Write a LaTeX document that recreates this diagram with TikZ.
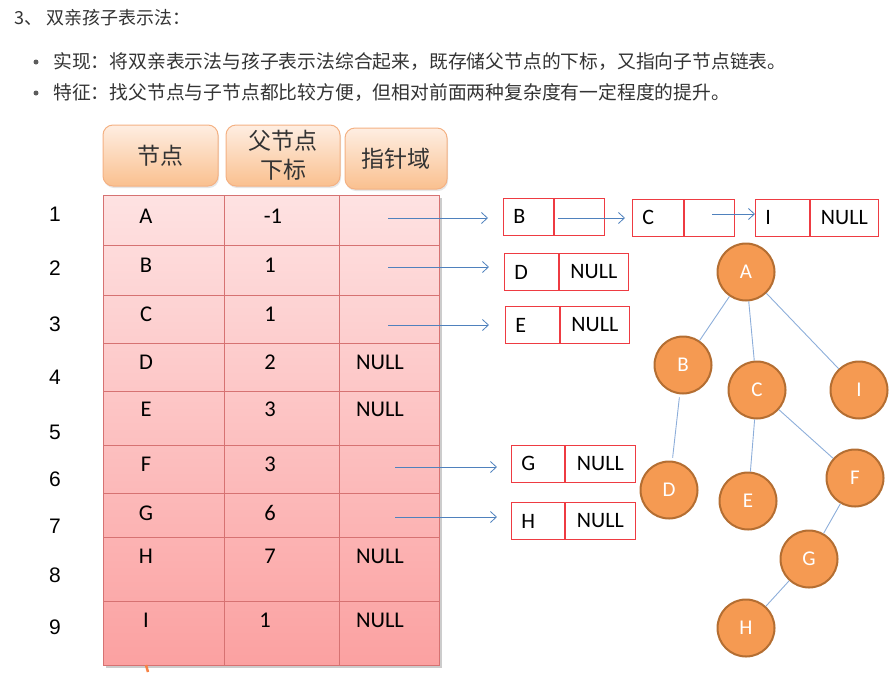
\documentclass[tikz,border=0pt]{standalone}
\usepackage{fontspec}
\setmainfont{Carlito}
\newfontfamily\cjk{Noto Sans CJK SC}
\newfontfamily\arialf{Liberation Sans}
\usepackage{tikz}
\usetikzlibrary{arrows.meta,positioning,calc,shadows}
\definecolor{cText}{HTML}{333333}
\definecolor{cHeadTop}{HTML}{FEEEE2}
\definecolor{cHeadBot}{HTML}{FAC08F}
\definecolor{cHeadLine}{HTML}{F4B183}
\definecolor{cRowTop}{HTML}{FEE2E2}
\definecolor{cRowBot}{HTML}{FBA1A1}
\definecolor{cGrid}{HTML}{D67272}
\definecolor{cBox}{HTML}{EE3B42}
\definecolor{cArrow}{HTML}{4F81BD}
\definecolor{cEdge}{HTML}{8DAEDA}
\definecolor{cNode}{HTML}{F59A52}
\definecolor{cNodeLine}{HTML}{B46E32}

\begin{document}
\begin{tikzpicture}[x=1pt, y=-1pt,
    head/.style={rounded corners=10pt, draw=cHeadLine, line width=1pt,
      top color=cHeadTop, bottom color=cHeadBot, minimum height=61pt,
      inner sep=0pt, align=center, text=cText,
      font=\cjk\fontsize{23}{29}\selectfont,
      drop shadow={shadow xshift=1pt, shadow yshift=-2pt, opacity=0.2}},
    cell/.style={draw=cBox, line width=0.9pt, minimum height=37pt, inner sep=0pt,
      font=\fontsize{22}{24}\selectfont},
    key/.style={cell, text width=#1, align=left, inner xsep=10pt},
    nxt/.style={cell, minimum width=#1},
    ptr/.style={cArrow, line width=0.8pt, -{Straight Barb[length=6pt,width=11pt]}},
    tnode/.style={circle, draw=cNodeLine, line width=2pt, fill=cNode,
      minimum size=57pt, inner sep=0pt, text=white,
      font=\fontsize{21}{23}\selectfont},
    edge/.style={cEdge, line width=0.9pt}]
  \useasboundingbox (0,0) rectangle (896,686);

  % heading and bullets
  \node[anchor=west, text=cText, font=\cjk\fontsize{18}{20}\selectfont]
    (title) at (11,18) {3、 双亲孩子表示法：};
  \node[circle, fill=cText!80, inner sep=0pt, minimum size=5pt] (dot1) at (36,62) {};
  \node[circle, fill=cText!80, inner sep=0pt, minimum size=5pt] (dot2) at (36,93) {};
  \node[anchor=west, text=cText, font=\cjk\fontsize{18.8}{20}\selectfont, inner xsep=0pt]
    (real) at (53,62) {实现：将双亲表示法与孩子表示法综合起来，既存储父节点的下标，又指向子节点链表。};
  \node[anchor=west, text=cText, font=\cjk\fontsize{18.8}{20}\selectfont, inner xsep=0pt]
    (feat) at (53,93) {特征：找父节点与子节点都比较方便，但相对前面两种复杂度有一定程度的提升。};

  % table head
  \node[head, minimum width=115pt] (h1) at (160.5,155.5) {节点};
  \node[head, minimum width=114pt] (h2) at (283,155.5) {父节点\\下标};
  \node[head, minimum width=102pt] (h3) at (396,158.5) {指针域};

  % table body
  \fill[black!20] (106,198) rectangle (442,668);
  \shade[top color=cRowTop, bottom color=cRowBot] (103,195) rectangle (439,665);
  \foreach \y in {245,295,343,391,445,493,537,601}
    \draw[cGrid, line width=1pt] (103,\y) -- (439,\y);
  \draw[cGrid, line width=1pt] (224,195) -- (224,665) (339,195) -- (339,665);
  \draw[cGrid, line width=1pt] (103,195) rectangle (439,665);
  \draw[cNode!85!red, line width=2.5pt] (146,665) -- (148,672);

  \foreach \n/\p/\px/\f/\y in {A/-1/273//216, B/1/270//265, C/1/270//314,
      D/2/270/NULL/362, E/3/270/NULL/409, F/3/270//464, G/6/270//513,
      H/7/270/NULL/556, I/1/265/NULL/620} {
    \node[font=\fontsize{22.5}{24}\selectfont] (c\n) at (146,\y) {\n};
    \node[font=\fontsize{22.5}{24}\selectfont] (p\n) at (\px,\y) {\p};
    \node[font=\fontsize{22.5}{24}\selectfont] (f\n) at (380,\y) {\f};
  }

  % row numbers
  \foreach \i/\y in {1/214, 2/268, 3/324, 4/377, 5/432, 6/479, 7/526, 8/575, 9/627}
    \node[font=\arialf\fontsize{21}{23}\selectfont] (r\i) at (55,\y) {\i};

  % child lists
  \node[key=30pt, anchor=west] (lB) at (503,216.5) {B};
  \node[nxt=50pt, right=0pt of lB] (lBn) {};
  \node[key=31pt, anchor=west] (lC) at (632,217.5) {C};
  \node[nxt=50pt, right=0pt of lC] (lCn) {};
  \node[key=34pt, anchor=west] (lI) at (755,217.5) {I};
  \node[nxt=68pt, right=0pt of lI] (lIn) {NULL};
  \node[key=34pt, anchor=west] (lD) at (504,272) {D};
  \node[nxt=69pt, right=0pt of lD] (lDn) {NULL};
  \node[key=34pt, anchor=west] (lE) at (505,325) {E};
  \node[nxt=69pt, right=0pt of lE] (lEn) {NULL};
  \node[key=33pt, anchor=west] (lG) at (511,463.5) {G};
  \node[nxt=70pt, right=0pt of lG] (lGn) {NULL};
  \node[key=33pt, anchor=west] (lH) at (511,521) {H};
  \node[nxt=70pt, right=0pt of lH] (lHn) {NULL};

  % pointers
  \coordinate (sA) at (388,218);
  \coordinate (sB) at (388,267);
  \coordinate (sC) at (388,325);
  \coordinate (sF) at (395,467);
  \coordinate (sG) at (395,517);
  \coordinate (sBn) at (558,218);
  \coordinate (sCn) at (712,214);
  \draw[ptr, shorten >=15pt] (sA) -- (sA -| lB.west);
  \draw[ptr, shorten >=15pt] (sB) -- (sB -| lD.west);
  \draw[ptr, shorten >=16pt] (sC) -- (sC -| lE.west);
  \draw[ptr, shorten >=14pt] (sF) -- (sF -| lG.west);
  \draw[ptr, shorten >=14pt] (sG) -- (sG -| lH.west);
  \draw[ptr, shorten >=7pt] (sBn) -- (sBn -| lC.west);
  \draw[ptr] (sCn) -- (sCn -| lI.west);

  % tree
  \node[tnode] (tA) at (746,272) {A};
  \node[tnode] (tB) at (683,365) {B};
  \node[tnode] (tC) at (757,390) {C};
  \node[tnode] (tI) at (859,390) {I};
  \node[tnode] (tD) at (669,490) {D};
  \node[tnode] (tE) at (748,501) {E};
  \node[tnode] (tF) at (855,478) {F};
  \node[tnode] (tG) at (809,559) {G};
  \node[tnode] (tH) at (746,628) {H};
  \draw[edge] (tA) -- (tB);
  \draw[edge] (tA) -- (tC);
  \draw[edge] (tA) -- (tI);
  \draw[edge, shorten <=3pt, shorten >=3pt] (tB) -- (tD);
  \draw[edge] (tC) -- (tE);
  \draw[edge] (tC) -- (tF);
  \draw[edge] (tF) -- (tG);
  \draw[edge] (tG) -- (tH);
\end{tikzpicture}
\end{document}
